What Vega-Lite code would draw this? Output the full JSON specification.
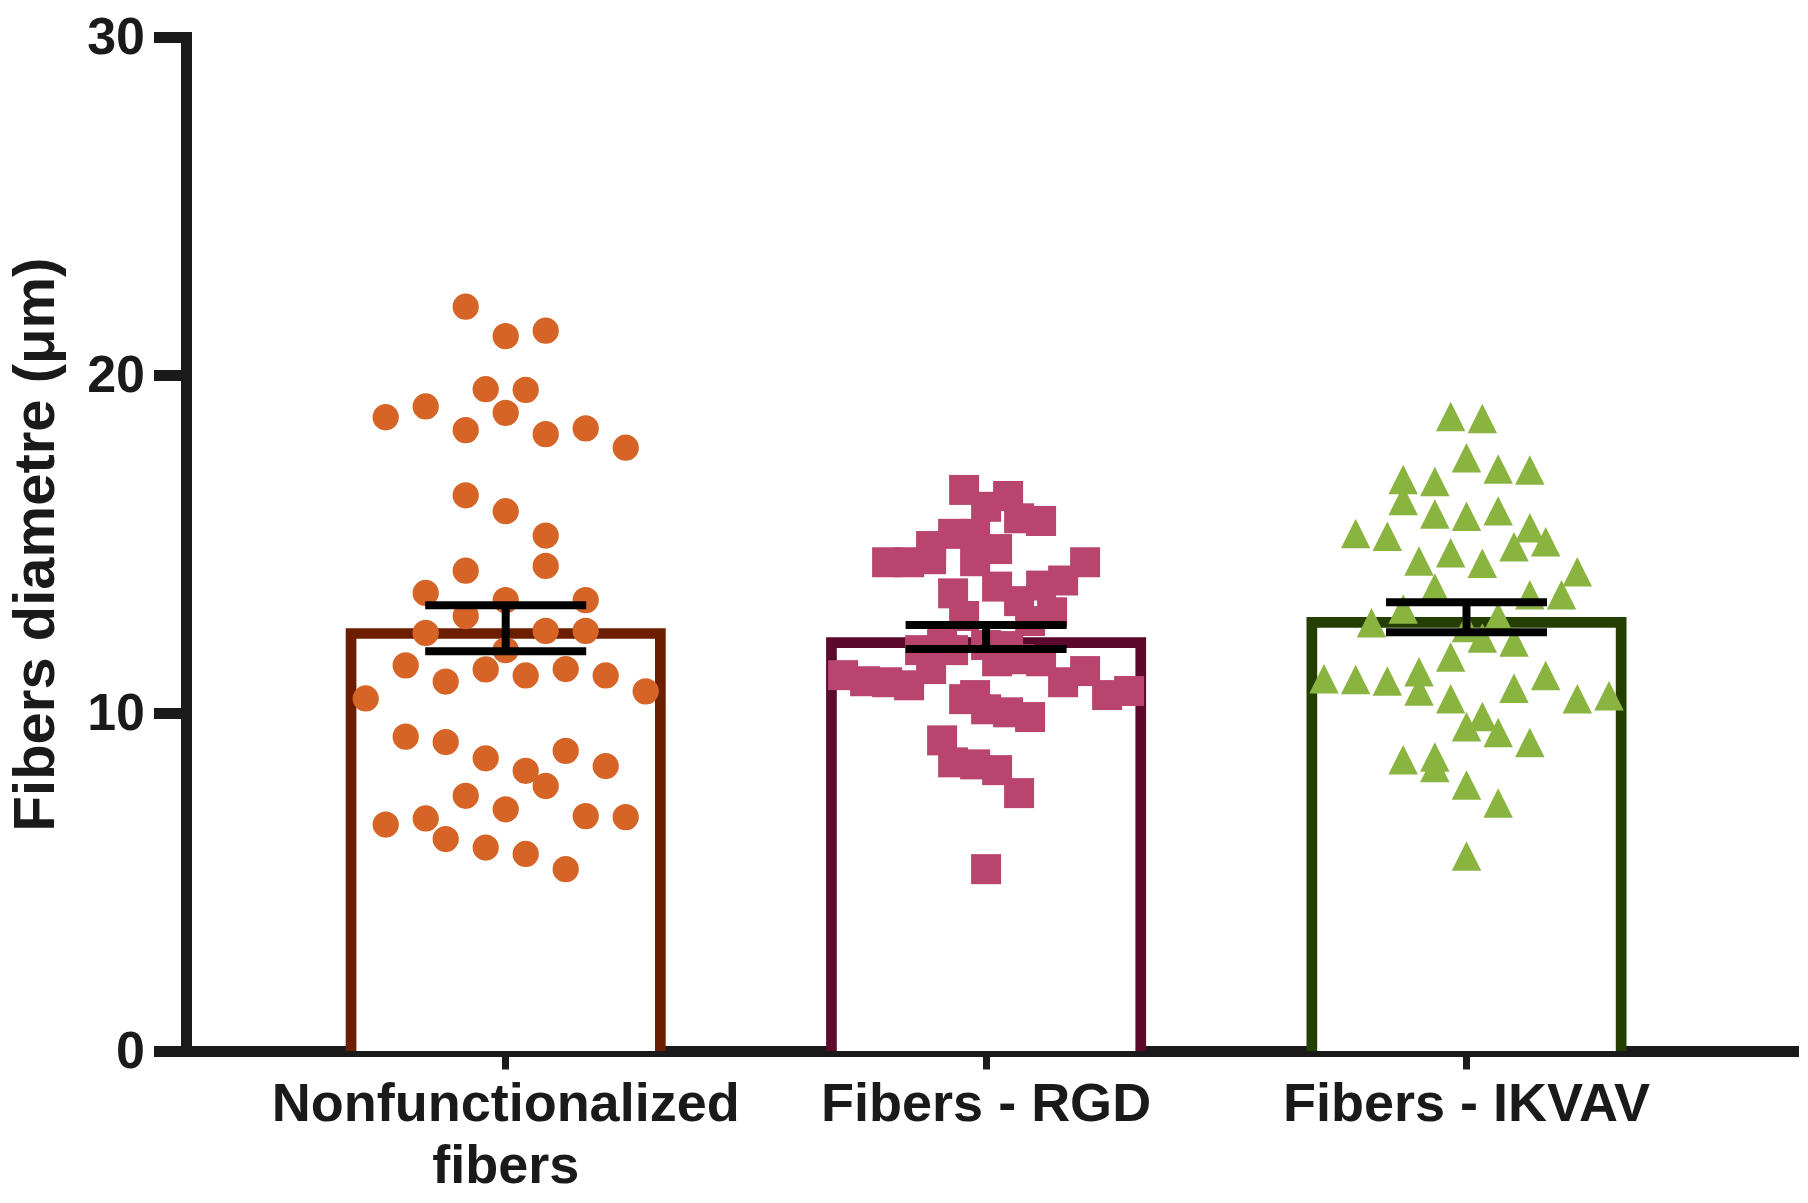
{
  "$schema": "https://vega.github.io/schema/vega-lite/v6.json",
  "width": 1607,
  "height": 1014,
  "autosize": {"type": "none"},
  "padding": {"left": 186, "top": 37, "right": 15, "bottom": 152},
  "background": "white",
  "config": {
    "view": {"stroke": null},
    "axis": {"grid": false, "domainColor": "#1a1a1a", "tickColor": "#1a1a1a", "labelColor": "#1a1a1a", "titleColor": "#1a1a1a", "labelFont": "Liberation Sans", "titleFont": "Liberation Sans", "labelFontWeight": "bold", "titleFontWeight": "bold", "domainCap": "square", "zindex": 1, "labelLimit": 0},
    "axisY": {"domainWidth": 11, "tickWidth": 11, "tickSize": 32.5, "labelFontSize": 52, "labelPadding": 9, "titleFontSize": 58, "titlePadding": 21},
    "axisX": {"domainWidth": 11, "tickWidth": 7, "tickSize": 18, "labelFontSize": 54, "labelPadding": 8, "labelAngle": 0, "labelLineHeight": 62}
  },
  "datasets": {
    "bars": [
      {"group": "Nonfunctionalized fibers", "mean": 12.51, "lo": 11.83, "hi": 13.19},
      {"group": "Fibers - RGD", "mean": 12.24, "lo": 11.89, "hi": 12.6},
      {"group": "Fibers - IKVAV", "mean": 12.84, "lo": 12.39, "hi": 13.28}
    ],
    "points": [
      {"group": "Nonfunctionalized fibers", "slot": -2, "value": 22.02},
      {"group": "Nonfunctionalized fibers", "slot": 0, "value": 21.15},
      {"group": "Nonfunctionalized fibers", "slot": 2, "value": 21.31},
      {"group": "Nonfunctionalized fibers", "slot": -1, "value": 19.58},
      {"group": "Nonfunctionalized fibers", "slot": 1, "value": 19.56},
      {"group": "Nonfunctionalized fibers", "slot": -6, "value": 18.75},
      {"group": "Nonfunctionalized fibers", "slot": -4, "value": 19.07},
      {"group": "Nonfunctionalized fibers", "slot": 0, "value": 18.88},
      {"group": "Nonfunctionalized fibers", "slot": -2, "value": 18.37},
      {"group": "Nonfunctionalized fibers", "slot": 2, "value": 18.25},
      {"group": "Nonfunctionalized fibers", "slot": 4, "value": 18.42},
      {"group": "Nonfunctionalized fibers", "slot": 6, "value": 17.85},
      {"group": "Nonfunctionalized fibers", "slot": -2, "value": 16.44},
      {"group": "Nonfunctionalized fibers", "slot": 0, "value": 15.97},
      {"group": "Nonfunctionalized fibers", "slot": 2, "value": 15.25},
      {"group": "Nonfunctionalized fibers", "slot": 2, "value": 14.35},
      {"group": "Nonfunctionalized fibers", "slot": -2, "value": 14.21},
      {"group": "Nonfunctionalized fibers", "slot": -4, "value": 13.55},
      {"group": "Nonfunctionalized fibers", "slot": 0, "value": 13.34},
      {"group": "Nonfunctionalized fibers", "slot": 4, "value": 13.34},
      {"group": "Nonfunctionalized fibers", "slot": -2, "value": 12.87},
      {"group": "Nonfunctionalized fibers", "slot": -4, "value": 12.37},
      {"group": "Nonfunctionalized fibers", "slot": 2, "value": 12.43},
      {"group": "Nonfunctionalized fibers", "slot": 4, "value": 12.43},
      {"group": "Nonfunctionalized fibers", "slot": 0, "value": 11.86},
      {"group": "Nonfunctionalized fibers", "slot": -5, "value": 11.41},
      {"group": "Nonfunctionalized fibers", "slot": -3, "value": 10.93},
      {"group": "Nonfunctionalized fibers", "slot": -1, "value": 11.29},
      {"group": "Nonfunctionalized fibers", "slot": 1, "value": 11.11},
      {"group": "Nonfunctionalized fibers", "slot": 3, "value": 11.3},
      {"group": "Nonfunctionalized fibers", "slot": 5, "value": 11.11},
      {"group": "Nonfunctionalized fibers", "slot": 7, "value": 10.64},
      {"group": "Nonfunctionalized fibers", "slot": -7, "value": 10.43},
      {"group": "Nonfunctionalized fibers", "slot": -5, "value": 9.3},
      {"group": "Nonfunctionalized fibers", "slot": -3, "value": 9.14},
      {"group": "Nonfunctionalized fibers", "slot": -1, "value": 8.66},
      {"group": "Nonfunctionalized fibers", "slot": 1, "value": 8.29},
      {"group": "Nonfunctionalized fibers", "slot": 3, "value": 8.88},
      {"group": "Nonfunctionalized fibers", "slot": 5, "value": 8.43},
      {"group": "Nonfunctionalized fibers", "slot": 2, "value": 7.84},
      {"group": "Nonfunctionalized fibers", "slot": -2, "value": 7.55},
      {"group": "Nonfunctionalized fibers", "slot": 0, "value": 7.15},
      {"group": "Nonfunctionalized fibers", "slot": -6, "value": 6.7},
      {"group": "Nonfunctionalized fibers", "slot": -4, "value": 6.88},
      {"group": "Nonfunctionalized fibers", "slot": -3, "value": 6.27},
      {"group": "Nonfunctionalized fibers", "slot": -1, "value": 6.02},
      {"group": "Nonfunctionalized fibers", "slot": 1, "value": 5.83},
      {"group": "Nonfunctionalized fibers", "slot": 3, "value": 5.38},
      {"group": "Nonfunctionalized fibers", "slot": 4, "value": 6.95},
      {"group": "Nonfunctionalized fibers", "slot": 6, "value": 6.92},
      {"group": "Fibers - RGD", "slot": -2, "value": 16.6},
      {"group": "Fibers - RGD", "slot": 2, "value": 16.42},
      {"group": "Fibers - RGD", "slot": 0, "value": 16.1},
      {"group": "Fibers - RGD", "slot": 3, "value": 15.76},
      {"group": "Fibers - RGD", "slot": 5, "value": 15.68},
      {"group": "Fibers - RGD", "slot": -3, "value": 15.3},
      {"group": "Fibers - RGD", "slot": -1, "value": 15.3},
      {"group": "Fibers - RGD", "slot": -5, "value": 14.94},
      {"group": "Fibers - RGD", "slot": -5, "value": 14.55},
      {"group": "Fibers - RGD", "slot": 1, "value": 14.85},
      {"group": "Fibers - RGD", "slot": -9, "value": 14.46},
      {"group": "Fibers - RGD", "slot": -7, "value": 14.46},
      {"group": "Fibers - RGD", "slot": -1, "value": 14.49},
      {"group": "Fibers - RGD", "slot": 9, "value": 14.46},
      {"group": "Fibers - RGD", "slot": 7, "value": 13.92},
      {"group": "Fibers - RGD", "slot": 5, "value": 13.77},
      {"group": "Fibers - RGD", "slot": 1, "value": 13.74},
      {"group": "Fibers - RGD", "slot": -3, "value": 13.54},
      {"group": "Fibers - RGD", "slot": 3, "value": 13.31},
      {"group": "Fibers - RGD", "slot": -2, "value": 12.87},
      {"group": "Fibers - RGD", "slot": 6, "value": 12.98},
      {"group": "Fibers - RGD", "slot": 4, "value": 12.72},
      {"group": "Fibers - RGD", "slot": -4, "value": 12.04},
      {"group": "Fibers - RGD", "slot": -6, "value": 11.86},
      {"group": "Fibers - RGD", "slot": -3, "value": 11.86},
      {"group": "Fibers - RGD", "slot": 0, "value": 12.01},
      {"group": "Fibers - RGD", "slot": 2, "value": 11.98},
      {"group": "Fibers - RGD", "slot": -13, "value": 11.12},
      {"group": "Fibers - RGD", "slot": -11, "value": 10.94},
      {"group": "Fibers - RGD", "slot": -9, "value": 10.91},
      {"group": "Fibers - RGD", "slot": -7, "value": 10.82},
      {"group": "Fibers - RGD", "slot": -5, "value": 11.3},
      {"group": "Fibers - RGD", "slot": 1, "value": 11.53},
      {"group": "Fibers - RGD", "slot": 3, "value": 11.59},
      {"group": "Fibers - RGD", "slot": 5, "value": 11.53},
      {"group": "Fibers - RGD", "slot": 7, "value": 10.91},
      {"group": "Fibers - RGD", "slot": 9, "value": 11.24},
      {"group": "Fibers - RGD", "slot": 11, "value": 10.53},
      {"group": "Fibers - RGD", "slot": 13, "value": 10.65},
      {"group": "Fibers - RGD", "slot": -2, "value": 10.41},
      {"group": "Fibers - RGD", "slot": -1, "value": 10.53},
      {"group": "Fibers - RGD", "slot": 0, "value": 10.11},
      {"group": "Fibers - RGD", "slot": 2, "value": 10.02},
      {"group": "Fibers - RGD", "slot": 4, "value": 9.88},
      {"group": "Fibers - RGD", "slot": -4, "value": 9.19},
      {"group": "Fibers - RGD", "slot": -3, "value": 8.54},
      {"group": "Fibers - RGD", "slot": -1, "value": 8.48},
      {"group": "Fibers - RGD", "slot": 1, "value": 8.31},
      {"group": "Fibers - RGD", "slot": 3, "value": 7.63},
      {"group": "Fibers - RGD", "slot": 0, "value": 5.38},
      {"group": "Fibers - IKVAV", "slot": -1, "value": 18.77},
      {"group": "Fibers - IKVAV", "slot": 1, "value": 18.71},
      {"group": "Fibers - IKVAV", "slot": 0, "value": 17.55},
      {"group": "Fibers - IKVAV", "slot": 2, "value": 17.22},
      {"group": "Fibers - IKVAV", "slot": 4, "value": 17.19},
      {"group": "Fibers - IKVAV", "slot": -4, "value": 16.91},
      {"group": "Fibers - IKVAV", "slot": -2, "value": 16.85},
      {"group": "Fibers - IKVAV", "slot": -4, "value": 16.29},
      {"group": "Fibers - IKVAV", "slot": -2, "value": 15.89},
      {"group": "Fibers - IKVAV", "slot": 0, "value": 15.82},
      {"group": "Fibers - IKVAV", "slot": 2, "value": 15.98},
      {"group": "Fibers - IKVAV", "slot": 4, "value": 15.48},
      {"group": "Fibers - IKVAV", "slot": -7, "value": 15.31},
      {"group": "Fibers - IKVAV", "slot": -5, "value": 15.23},
      {"group": "Fibers - IKVAV", "slot": 5, "value": 15.07},
      {"group": "Fibers - IKVAV", "slot": 3, "value": 14.92},
      {"group": "Fibers - IKVAV", "slot": -3, "value": 14.5},
      {"group": "Fibers - IKVAV", "slot": -1, "value": 14.74},
      {"group": "Fibers - IKVAV", "slot": 1, "value": 14.43},
      {"group": "Fibers - IKVAV", "slot": 7, "value": 14.18},
      {"group": "Fibers - IKVAV", "slot": -2, "value": 13.7},
      {"group": "Fibers - IKVAV", "slot": 4, "value": 13.5},
      {"group": "Fibers - IKVAV", "slot": 6, "value": 13.5},
      {"group": "Fibers - IKVAV", "slot": -4, "value": 13.08},
      {"group": "Fibers - IKVAV", "slot": -6, "value": 12.67},
      {"group": "Fibers - IKVAV", "slot": 2, "value": 12.84},
      {"group": "Fibers - IKVAV", "slot": 0, "value": 12.53},
      {"group": "Fibers - IKVAV", "slot": 1, "value": 12.22},
      {"group": "Fibers - IKVAV", "slot": 3, "value": 12.1},
      {"group": "Fibers - IKVAV", "slot": -1, "value": 11.66},
      {"group": "Fibers - IKVAV", "slot": -9, "value": 11.01},
      {"group": "Fibers - IKVAV", "slot": -7, "value": 10.99},
      {"group": "Fibers - IKVAV", "slot": -5, "value": 10.95},
      {"group": "Fibers - IKVAV", "slot": -3, "value": 11.22},
      {"group": "Fibers - IKVAV", "slot": -3, "value": 10.65},
      {"group": "Fibers - IKVAV", "slot": 5, "value": 11.11},
      {"group": "Fibers - IKVAV", "slot": 3, "value": 10.73},
      {"group": "Fibers - IKVAV", "slot": -1, "value": 10.42},
      {"group": "Fibers - IKVAV", "slot": 7, "value": 10.42},
      {"group": "Fibers - IKVAV", "slot": 9, "value": 10.51},
      {"group": "Fibers - IKVAV", "slot": 1, "value": 9.9},
      {"group": "Fibers - IKVAV", "slot": 0, "value": 9.59},
      {"group": "Fibers - IKVAV", "slot": 2, "value": 9.42},
      {"group": "Fibers - IKVAV", "slot": 4, "value": 9.13},
      {"group": "Fibers - IKVAV", "slot": -4, "value": 8.62},
      {"group": "Fibers - IKVAV", "slot": -2, "value": 8.7},
      {"group": "Fibers - IKVAV", "slot": -2, "value": 8.39},
      {"group": "Fibers - IKVAV", "slot": 0, "value": 7.87},
      {"group": "Fibers - IKVAV", "slot": 2, "value": 7.34},
      {"group": "Fibers - IKVAV", "slot": 0, "value": 5.77}
    ]
  },
  "resolve": {"scale": {"xOffset": "independent"}},
  "layer": [
    {
      "data": {"name": "bars"},
      "mark": {"type": "bar", "width": 309.3, "fill": "white", "strokeWidth": 10.7, "yOffset": 5.35, "clip": true},
      "encoding": {
        "x": {"field": "group", "type": "nominal", "title": null,
              "scale": {"domain": ["Nonfunctionalized fibers", "Fibers - RGD", "Fibers - IKVAV"], "paddingInner": 0, "paddingOuter": 0.17256, "align": 0.4795},
              "axis": {"labelExpr": "datum.label == 'Nonfunctionalized fibers' ? ['Nonfunctionalized', 'fibers'] : datum.label"}},
        "y": {"field": "mean", "type": "quantitative", "title": "Fibers diametre (μm)",
              "scale": {"domain": [0, 30], "nice": false},
              "axis": {"values": [0, 10, 20, 30]}},
        "stroke": {"field": "group", "type": "nominal", "legend": null,
                   "scale": {"domain": ["Nonfunctionalized fibers", "Fibers - RGD", "Fibers - IKVAV"], "range": ["#6b1e00", "#5b0a2e", "#253f02"]}}
      }
    },
    {
      "data": {"name": "points"},
      "transform": [{"filter": "datum.group == 'Nonfunctionalized fibers'"}],
      "mark": {"type": "point", "shape": "circle", "filled": true, "opacity": 1, "size": 690, "color": "#d56426", "strokeWidth": 0},
      "encoding": {
        "x": {"field": "group", "type": "nominal", "title": null},
        "xOffset": {"field": "slot", "type": "quantitative", "scale": {"domain": [-12.01, 12.01], "range": [0, 480.4]}},
        "y": {"field": "value", "type": "quantitative", "title": "Fibers diametre (μm)"}
      }
    },
    {
      "data": {"name": "points"},
      "transform": [{"filter": "datum.group == 'Fibers - RGD'"}],
      "mark": {"type": "point", "shape": "square", "filled": true, "opacity": 1, "size": 900, "color": "#b9446e", "strokeWidth": 0},
      "encoding": {
        "x": {"field": "group", "type": "nominal", "title": null},
        "xOffset": {"field": "slot", "type": "quantitative", "scale": {"domain": [-21.836, 21.836], "range": [0, 480.4]}},
        "y": {"field": "value", "type": "quantitative", "title": "Fibers diametre (μm)"}
      }
    },
    {
      "data": {"name": "points"},
      "transform": [{"filter": "datum.group == 'Fibers - IKVAV'"}],
      "mark": {"type": "point", "shape": "M0,-1L1,1L-1,1Z", "filled": true, "opacity": 1, "size": 870, "color": "#8ab440", "strokeWidth": 0},
      "encoding": {
        "x": {"field": "group", "type": "nominal", "title": null},
        "xOffset": {"field": "slot", "type": "quantitative", "scale": {"domain": [-15.17, 15.17], "range": [0, 480.4]}},
        "y": {"field": "value", "type": "quantitative", "title": "Fibers diametre (μm)"}
      }
    },
    {
      "data": {"name": "bars"},
      "mark": {"type": "rule", "color": "#000000", "strokeWidth": 8},
      "encoding": {
        "x": {"field": "group", "type": "nominal", "title": null},
        "y": {"field": "lo", "type": "quantitative", "title": "Fibers diametre (μm)"},
        "y2": {"field": "hi"}
      }
    },
    {
      "data": {"name": "bars"},
      "mark": {"type": "tick", "color": "#000000", "thickness": 8, "size": 161, "opacity": 1},
      "encoding": {
        "x": {"field": "group", "type": "nominal", "title": null},
        "y": {"field": "lo", "type": "quantitative", "title": "Fibers diametre (μm)"}
      }
    },
    {
      "data": {"name": "bars"},
      "mark": {"type": "tick", "color": "#000000", "thickness": 8, "size": 161, "opacity": 1},
      "encoding": {
        "x": {"field": "group", "type": "nominal", "title": null},
        "y": {"field": "hi", "type": "quantitative", "title": "Fibers diametre (μm)"}
      }
    }
  ]
}
